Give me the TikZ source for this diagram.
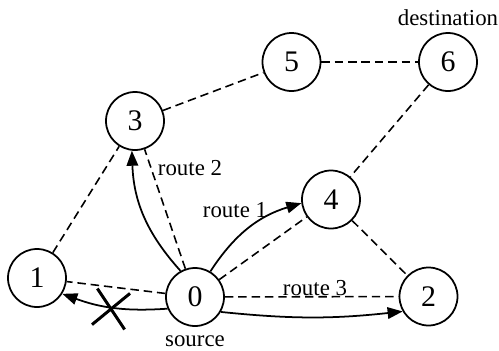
\documentclass[tikz,border=0pt]{standalone}
\usepackage{fontspec}
\setmainfont{Liberation Serif}
\usetikzlibrary{positioning,arrows.meta,shapes.misc}

\begin{document}
\begin{tikzpicture}[
  font=\fontsize{13}{15}\selectfont,
  vert/.style={draw, circle, line width=1pt, minimum size=1.16cm, inner sep=0pt, font=\fontsize{17}{19}\selectfont},
  link/.style={dash pattern=on 4.8pt off 2.8pt, line width=0.9pt},
  route/.style={-{Triangle[length=3mm, width=2.3mm]}, line width=1pt},
  blocked/.style={cross out, draw, line width=1.7pt, inner sep=0pt, minimum width=0.6cm, minimum height=0.67cm},
  node distance=0pt]
\useasboundingbox (0,0) rectangle (9.98,7);
\node[vert] (n0) at (3.9,1.06) {0};
\node[vert] (n1) at (0.74,1.44) {1};
\node[vert] (n2) at (8.57,1.07) {2};
\node[vert] (n3) at (2.7,4.58) {3};
\node[vert] (n4) at (6.62,3.01) {4};
\node[vert] (n5) at (5.83,5.76) {5};
\node[vert] (n6) at (8.96,5.76) {6};
\node[below=0.06cm of n0] (src) {source};
\node[above=of n6] (dst) {destination};
% links of the network
\draw[link] (n0) -- (n1);
\draw[link] (n0) -- (n2);
\draw[link] (n0) -- (n3);
\draw[link] (n0) -- (n4);
\draw[link] (n1) -- (n3);
\draw[link] (n3) -- (n5);
\draw[link] (n5) -- (n6);
\draw[link] (n6) -- (n4);
\draw[link] (n4) -- (n2);
% routes from the source
\draw[route] (n0.119) to[bend left=20] (n3.264);
\draw[route] (n0.59) to[bend left=20] (n4.187);
\draw[route] (n0.-30) to[bend right=6] (n2.210);
\draw[route] (n0.203) to[bend left=12] (n1.-32);
\node[blocked, rotate=-8.5] (cut) at (2.22,0.82) {};
\node (r2) at (3.8,3.64) {route 2};
\node (r1) at (4.7,2.8) {route 1};
\node (r3) at (6.3,1.24) {route 3};
\end{tikzpicture}
\end{document}
